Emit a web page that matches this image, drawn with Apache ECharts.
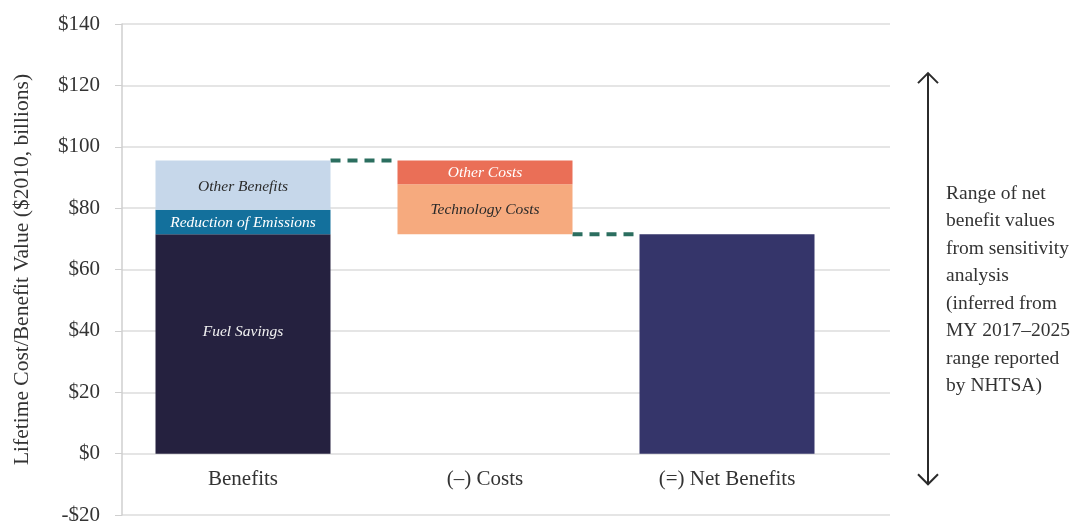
<!DOCTYPE html>
<html>
<head>
<meta charset="utf-8">
<script src="https://cdn.jsdelivr.net/npm/echarts@6/dist/echarts.min.js"></script>
<style>
  html, body { margin: 0; padding: 0; background: #fff; }
  #chart { width: 1089px; height: 521px; }
</style>
</head>
<body>
<div id="chart"></div>
<script>
const categories = ['Benefits', '(–) Costs', '(=) Net Benefits'];
const yTicks = { min: -20, max: 140, interval: 20 };

// stacked pieces, one slot per category
const fuelSavings = [71.5, '-', '-'];
const emissionReduction = [8, '-', '-'];
const otherBenefits = [16, '-', '-'];
const technologyCosts = ['-', 16.3, '-'];
const otherCosts = ['-', 7.7, '-'];
const netBenefits = ['-', '-', 71.5];

// sensitivity range shown by the double arrow
const netRange = [-10, 124];
const rangeNote = ['Range of net', 'benefit values', 'from sensitivity', 'analysis',
  '(inferred from', 'MY 2017–2025', 'range reported', 'by NHTSA)'];

const FONT = '"Liberation Serif", "DejaVu Serif", serif';
const BAR_W = 175;

const benefitTotal = fuelSavings[0] + emissionReduction[0] + otherBenefits[0];
const costBase = ['-', benefitTotal - technologyCosts[1] - otherCosts[1], '-'];
// dashed connectors: [from category index, level]
const connectors = [[0, benefitTotal], [1, costBase[1]]];

const chart = echarts.init(document.getElementById('chart'));

function barSeries(name, data, color, textColor, labelShift) {
  return {
    name, type: 'bar', stack: 'total', xAxisIndex: 1, yAxisIndex: 1,
    barWidth: BAR_W, data,
    itemStyle: { color },
    label: textColor ? {
      show: true, position: 'inside', formatter: '{a}', offset: [0, labelShift || 0],
      fontFamily: FONT, fontStyle: 'italic', fontSize: 15.5, color: textColor
    } : { show: false },
    emphasis: { disabled: true },
    silent: true
  };
}

const fit = { outerBoundsMode: 'none', containLabel: false };

chart.setOption({
  animation: false,
  grid: [
    { left: 122, right: 199, top: 24, bottom: 6, ...fit },
    { left: 122, width: 726, top: 24, bottom: 6, ...fit },
    { left: 918, width: 20, top: 24, bottom: 6, ...fit },
    // label strip: bottom edge sits on the $0 line
    { left: 122, width: 726, top: 24, bottom: 68, ...fit }
  ],
  xAxis: [
    { gridIndex: 0, type: 'value', min: 0, max: 1, show: false },
    { gridIndex: 1, type: 'category', data: categories, show: false },
    { gridIndex: 2, type: 'value', min: 0, max: 1, show: false },
    {
      gridIndex: 3, type: 'category', data: categories,
      axisLine: { show: false }, axisTick: { show: false },
      axisLabel: { margin: 16, fontFamily: FONT, fontSize: 21, color: '#333' }
    }
  ],
  yAxis: [
    {
      gridIndex: 0, type: 'value', ...yTicks,
      name: 'Lifetime Cost/Benefit Value ($2010, billions)',
      nameLocation: 'middle', nameGap: 89,
      nameTextStyle: { fontFamily: FONT, fontSize: 21.5, color: '#333' },
      axisLine: { show: true, lineStyle: { color: '#cfcfcf', width: 1.5 } },
      axisTick: { show: true, length: 7, lineStyle: { color: '#cfcfcf' } },
      axisLabel: {
        margin: 22, fontFamily: FONT, fontSize: 21, color: '#333',
        formatter: v => (v < 0 ? '-$' + (-v) : '$' + v)
      },
      splitLine: { show: true, lineStyle: { color: '#dcdcdc', width: 1.5 } }
    },
    { gridIndex: 1, type: 'value', ...yTicks, show: false },
    { gridIndex: 2, type: 'value', ...yTicks, show: false },
    { gridIndex: 3, type: 'value', min: 0, max: 1, show: false }
  ],
  series: [
    barSeries('Fuel Savings', fuelSavings, '#25213f', '#f2f2f2', -12),
    barSeries('Reduction of Emissions', emissionReduction, '#13709c', '#ffffff', 1),
    barSeries('Other Benefits', otherBenefits, '#c6d7ea', '#2a2a2a', 2),
    barSeries('base', costBase, 'rgba(0,0,0,0)', null),
    barSeries('Technology Costs', technologyCosts, '#f6aa7e', '#2a2a2a', 1),
    barSeries('Other Costs', otherCosts, '#ea6f57', '#ffffff', 1),
    barSeries('Net Benefits', netBenefits, '#35356a', null),
    {
      type: 'custom', xAxisIndex: 1, yAxisIndex: 1, data: connectors, silent: true,
      renderItem: (params, api) => {
        const p = api.coord([api.value(0), api.value(1)]);
        const q = api.coord([api.value(0) + 1, api.value(1)]);
        return {
          type: 'line',
          shape: { x1: p[0] + BAR_W / 2, y1: p[1], x2: q[0] - BAR_W / 2, y2: q[1] },
          style: { stroke: '#2b6e5f', lineWidth: 4, lineDash: [10, 7] }
        };
      }
    },
    {
      type: 'custom', xAxisIndex: 2, yAxisIndex: 2, data: [[0.5, netRange[0], netRange[1]]],
      silent: true, clip: false,
      renderItem: (params, api) => {
        const lo = api.coord([api.value(0), api.value(1)]);
        const hi = api.coord([api.value(0), api.value(2)]);
        const x = lo[0], s = { stroke: '#2b2b2b', lineWidth: 2, fill: null };
        return {
          type: 'group', children: [
            { type: 'line', shape: { x1: x, y1: hi[1], x2: x, y2: lo[1] }, style: s },
            { type: 'polyline', shape: { points: [[x - 10, hi[1] + 10], [x, hi[1]], [x + 10, hi[1] + 10]] }, style: s },
            { type: 'polyline', shape: { points: [[x - 10, lo[1] - 10], [x, lo[1]], [x + 10, lo[1] - 10]] }, style: s }
          ]
        };
      }
    }
  ],
  graphic: [{
    type: 'text', left: 946, top: 180,
    style: {
      text: rangeNote.join('\n'), fontFamily: FONT, fontSize: 19.5,
      lineHeight: 27.5, fill: '#333'
    }
  }]
});
</script>
</body>
</html>
